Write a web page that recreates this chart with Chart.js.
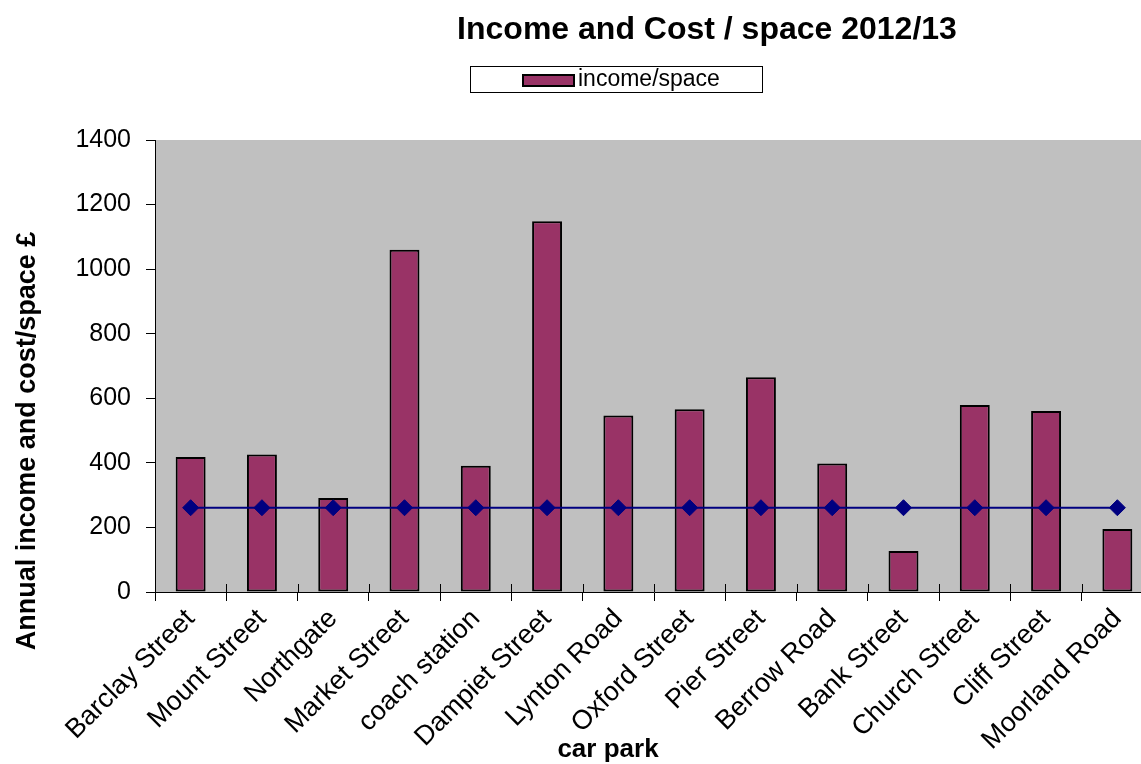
<!DOCTYPE html>
<html>
<head>
<meta charset="utf-8">
<script src="https://cdn.jsdelivr.net/npm/chart.js@4.4.1/dist/chart.umd.min.js"></script>
<style>
  html, body { margin: 0; padding: 0; background: #ffffff; overflow: hidden; }
  #wrap { width: 1414px; height: 764px; }
</style>
</head>
<body>
<div id="wrap"><canvas id="c" width="1414" height="764"></canvas></div>
<script>
const categories = ["Barclay Street", "Mount Street", "Northgate", "Market Street", "coach station",
  "Dampiet Street", "Lynton Road", "Oxford Street", "Pier Street", "Berrow Road",
  "Bank Street", "Church Street", "Cliff Street", "Moorland Road"];
const incomePerSpace = [418, 426, 291, 1060, 391, 1148, 547, 566, 665, 398, 127, 579, 561, 195];
const costPerSpace = [261, 261, 261, 261, 261, 261, 261, 261, 261, 261, 261, 261, 261, 261];
const yTicks = [0, 200, 400, 600, 800, 1000, 1200, 1400];

const chartTitle = "Income and Cost / space 2012/13";
const yTitle = "Annual income and cost/space £";
const xTitle = "car park";
const incomeLabel = "income/space";
const costLabel = "cost/space";

const FONT = "'Liberation Sans', Arial, sans-serif";

const decorations = {
  id: 'decorations',
  beforeDraw(chart) {
    const {ctx, chartArea} = chart;
    ctx.save();
    ctx.fillStyle = '#C0C0C0';
    ctx.fillRect(chartArea.left, chartArea.top, chartArea.right - chartArea.left, chartArea.bottom - chartArea.top);
    ctx.restore();
  },
  afterDraw(chart) {
    const {ctx, chartArea} = chart;
    const xs = chart.scales.x;
    ctx.save();
    // inner part of crossing category tick marks
    ctx.strokeStyle = '#000000';
    ctx.lineWidth = 1;
    for (let i = 0; i <= categories.length; i++) {
      const px = Math.round(xs.getPixelForValue(i - 0.5)) + 0.5;
      ctx.beginPath();
      ctx.moveTo(px, chartArea.bottom - 8);
      ctx.lineTo(px, chartArea.bottom);
      ctx.stroke();
    }
    // chart title
    ctx.fillStyle = '#000000';
    ctx.font = 'bold 32px ' + FONT;
    ctx.textAlign = 'center';
    ctx.textBaseline = 'middle';
    ctx.fillText(chartTitle, 707, 30);
    // legend box
    const ds = chart.data.datasets[0];
    ctx.fillStyle = '#ffffff';
    ctx.fillRect(470.5, 66.5, 292, 26);
    ctx.lineWidth = 1;
    ctx.strokeStyle = '#000000';
    ctx.strokeRect(470.5, 66.5, 292, 26);
    ctx.fillStyle = ds.backgroundColor;
    ctx.fillRect(523, 75, 51, 11);
    ctx.lineWidth = 2;
    ctx.strokeRect(523, 75, 51, 11);
    ctx.fillStyle = '#000000';
    ctx.font = '23px ' + FONT;
    ctx.textAlign = 'left';
    ctx.textBaseline = 'middle';
    ctx.fillText(ds.label, 578, 80);
    // axis titles
    ctx.font = 'bold 26px ' + FONT;
    ctx.textAlign = 'center';
    ctx.textBaseline = 'middle';
    ctx.fillText(xTitle, 608, 750);
    ctx.font = 'bold 27px ' + FONT;
    ctx.translate(28, 441);
    ctx.rotate(-Math.PI / 2);
    ctx.fillText(yTitle, 0, 0);
    ctx.restore();
  }
};

new Chart(document.getElementById('c'), {
  data: {
    labels: categories,
    datasets: [
      {
        type: 'bar',
        label: incomeLabel,
        data: incomePerSpace,
        backgroundColor: '#993366',
        borderColor: '#000000',
        borderWidth: 2,
        borderSkipped: false,
        barPercentage: 0.42,
        categoryPercentage: 1.0,
        order: 1
      },
      {
        type: 'line',
        label: costLabel,
        data: costPerSpace,
        borderColor: '#000080',
        backgroundColor: '#000080',
        borderWidth: 2,
        pointStyle: 'rectRot',
        pointRadius: 8,
        pointBackgroundColor: '#000080',
        pointBorderColor: '#000080',
        pointBorderWidth: 1,
        tension: 0,
        fill: false,
        order: 0
      }
    ]
  },
  options: {
    responsive: false,
    animation: false,
    devicePixelRatio: 1,
    layout: { padding: { left: 0, right: 261, top: 140, bottom: 0 } },
    plugins: {
      legend: { display: false },
      tooltip: { enabled: false },
      title: { display: false }
    },
    scales: {
      x: {
        type: 'category',
        offset: true,
        grid: {
          offset: true,
          drawOnChartArea: false,
          drawTicks: true,
          tickLength: 9,
          tickColor: '#000000',
          tickWidth: 1
        },
        border: { display: true, color: '#000000', width: 1 },
        ticks: {
          autoSkip: false,
          maxRotation: 45,
          minRotation: 45,
          color: '#000000',
          padding: 2,
          font: { family: FONT, size: 27 }
        },
        afterFit(scale) { scale.height = 172; }
      },
      y: {
        type: 'linear',
        min: 0,
        max: 1400,
        grid: {
          drawOnChartArea: false,
          drawTicks: true,
          tickLength: 9,
          tickColor: '#000000',
          tickWidth: 1
        },
        border: { display: true, color: '#000000', width: 1 },
        afterBuildTicks(scale) { scale.ticks = yTicks.map(v => ({ value: v })); },
        ticks: {
          color: '#000000',
          padding: 15,
          font: { family: FONT, size: 25 },
          callback: (v) => String(v)
        },
        afterFit(scale) { scale.width = 155; }
      }
    }
  },
  plugins: [decorations]
});
</script>
</body>
</html>
